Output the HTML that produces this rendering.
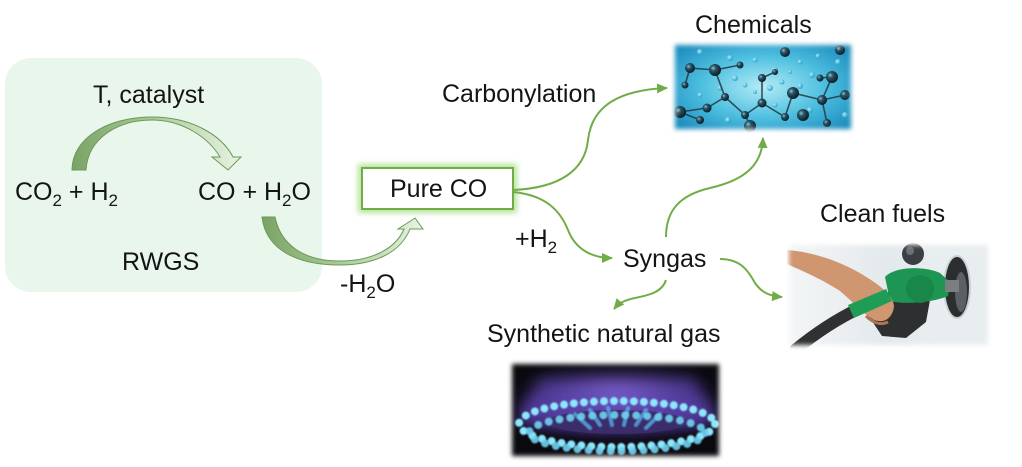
<!DOCTYPE html>
<html><head><meta charset="utf-8">
<style>
html,body{margin:0;padding:0;background:#fff;}
svg{display:block}
text{font-family:"Liberation Sans",Arial,sans-serif;font-size:25px;fill:#141414;}
</style></head><body>
<svg width="1022" height="467" viewBox="0 0 1022 467" xmlns="http://www.w3.org/2000/svg">
<defs>
 <linearGradient id="ag1" x1="0" x2="1" y1="0" y2="0">
  <stop offset="0" stop-color="#7aa366"/><stop offset="0.45" stop-color="#a6c796"/><stop offset="1" stop-color="#e8f3e2"/>
 </linearGradient>
 <marker id="ah" markerUnits="userSpaceOnUse" markerWidth="11" markerHeight="10" refX="10" refY="5" orient="auto" viewBox="0 0 11 10">
  <path d="M0,0 L11,5 L0,10 Z" fill="#70ad47"/>
 </marker>
 <filter id="glow" x="-20%" y="-50%" width="140%" height="200%"><feGaussianBlur stdDeviation="3"/></filter>
 <filter id="fb" x="-20%" y="-20%" width="140%" height="140%"><feGaussianBlur stdDeviation="2.5"/></filter>
 <filter id="sb" x="-50%" y="-50%" width="200%" height="200%"><feGaussianBlur stdDeviation="0.8"/></filter>
 <filter id="bb" x="-50%" y="-50%" width="200%" height="200%"><feGaussianBlur stdDeviation="7"/></filter>
 <radialGradient id="chemBg" cx="50%" cy="50%" r="65%">
  <stop offset="0" stop-color="#b5ebf6"/><stop offset="0.5" stop-color="#4fc0e0"/><stop offset="1" stop-color="#1585b8"/>
 </radialGradient>
 <radialGradient id="ball" cx="35%" cy="35%" r="65%">
  <stop offset="0" stop-color="#8fc4d2"/><stop offset="0.35" stop-color="#2a5566"/><stop offset="1" stop-color="#0c1e29"/>
 </radialGradient>
 <radialGradient id="lball" cx="35%" cy="35%" r="65%">
  <stop offset="0" stop-color="#bff0fb"/><stop offset="1" stop-color="#1f9fcc"/>
 </radialGradient>
 <linearGradient id="fuelBg" x1="0" x2="1" y1="0" y2="0">
  <stop offset="0" stop-color="#f5f7f8"/><stop offset="0.5" stop-color="#e3e9ec"/><stop offset="1" stop-color="#f0f3f5"/>
 </linearGradient>
 <radialGradient id="purp" cx="50%" cy="50%" r="50%">
  <stop offset="0" stop-color="#9a7ef0"/><stop offset="1" stop-color="#4a2f8a" stop-opacity="0"/>
 </radialGradient>
 <mask id="mChem" maskUnits="userSpaceOnUse" x="650" y="25" width="225" height="125">
  <rect x="675" y="45" width="176" height="84" fill="#fff" filter="url(#fb)"/>
 </mask>
 <mask id="mFuel" maskUnits="userSpaceOnUse" x="770" y="225" width="240" height="140">
  <rect x="789" y="245" width="199" height="100" fill="#fff" filter="url(#fb)"/>
 </mask>
 <mask id="mGas" maskUnits="userSpaceOnUse" x="495" y="345" width="240" height="122">
  <rect x="512" y="364" width="207" height="92" fill="#fff" filter="url(#fb)"/>
 </mask>
</defs>

<!-- RWGS box -->
<rect x="5" y="58" width="317" height="234" rx="26" fill="#e9f6ec"/>

<!-- curved arrow 1 -->
<path d="M72,170 C72,138 108,117 152,117 C190,117 221,134 233,157 L241,157 L228,170 L212,157 L220,157 C208,137 182,120 152,120 C118,120 88,138 86,170 Z" fill="url(#ag1)" stroke="#6a9a55" stroke-width="1"/>

<!-- curved arrow 2 -->
<path d="M262,217 L275,217 C281,246 305,261 340,261 C370,261 395,250 404,229 L398,229 L415,218 L423,229 L410,229 C400,254 372,265 340,265 C297,265 266,250 262,217 Z" fill="url(#ag1)" stroke="#6a9a55" stroke-width="1"/>

<!-- labels left -->
<text x="93" y="103">T, catalyst</text>
<text x="15" y="200">CO<tspan font-size="17" dy="6">2</tspan><tspan dy="-6"> + H</tspan><tspan font-size="17" dy="6">2</tspan></text>
<text x="198" y="200">CO + H<tspan font-size="17" dy="6">2</tspan><tspan dy="-6">O</tspan></text>
<text x="122" y="270">RWGS</text>
<text x="340" y="292">-H<tspan font-size="17" dy="6">2</tspan><tspan dy="-6">O</tspan></text>

<!-- Pure CO -->
<rect x="362" y="168" width="151" height="41" fill="none" stroke="#b5e39a" stroke-width="8" filter="url(#glow)"/>
<rect x="362" y="168" width="151" height="41" fill="#fff" stroke="#70ad47" stroke-width="2"/>
<text x="390" y="197">Pure CO</text>

<text x="442" y="102">Carbonylation</text>
<text x="515" y="247">+H<tspan font-size="17" dy="6">2</tspan></text>
<text x="623" y="267">Syngas</text>
<text x="695" y="33">Chemicals</text>
<text x="820" y="222">Clean fuels</text>
<text x="487" y="342">Synthetic natural gas</text>

<!-- connectors -->
<g fill="none" stroke="#70ad47" stroke-width="2" marker-end="url(#ah)">
 <path d="M513,190 C560,188 585,170 588,140 C592,105 620,90 667,88"/>
 <path d="M513,192 C545,195 560,210 568,230 C575,248 590,258 612,258"/>
 <path d="M666,237 C666,210 680,195 710,188 C745,180 762,165 763,138"/>
 <path d="M720,259 C740,259 748,270 755,283 C762,293 770,296 782,297"/>
 <path d="M666,280 C662,292 650,295 635,298 C625,300 619,303 614,309"/>
</g>

<!-- Chemicals image -->
<g mask="url(#mChem)">
 <rect x="670" y="40" width="186" height="94" fill="url(#chemBg)"/>
 <g fill="url(#lball)" opacity="0.9">
  <circle cx="700" cy="52" r="3"/><circle cx="730" cy="58" r="3"/><circle cx="755" cy="60" r="2.5"/>
  <circle cx="775" cy="70" r="3"/><circle cx="800" cy="62" r="2.5"/><circle cx="812" cy="75" r="3"/>
  <circle cx="770" cy="88" r="3"/><circle cx="782" cy="82" r="2.5"/><circle cx="800" cy="86" r="3"/>
  <circle cx="745" cy="85" r="2.5"/><circle cx="735" cy="78" r="3"/><circle cx="720" cy="88" r="2.5"/>
  <circle cx="810" cy="110" r="3"/><circle cx="775" cy="105" r="2.5"/><circle cx="838" cy="62" r="3"/>
  <circle cx="700" cy="95" r="2.5"/><circle cx="845" cy="115" r="3"/><circle cx="755" cy="92" r="2"/>
  <circle cx="728" cy="120" r="3"/><circle cx="790" cy="72" r="2"/><circle cx="818" cy="56" r="2.5"/>
 </g>
 <g stroke="#24404c" stroke-width="1.6" fill="none" opacity="0.9">
  <path d="M690,68 L715,70 L725,97 L707,108 L680,112"/>
  <path d="M690,68 L685,85"/>
  <path d="M715,70 L740,65"/>
  <path d="M725,97 L745,115 L762,103 L762,78 L775,72"/>
  <path d="M762,103 L785,117 L793,93 L822,100 L832,77"/>
  <path d="M822,100 L845,95"/>
  <path d="M820,78 L832,77"/>
  <path d="M822,100 L827,123"/>
  <path d="M745,115 L750,125"/>
  <path d="M680,112 L700,120"/>
 </g>
 <g fill="url(#ball)">
  <circle cx="690" cy="68" r="5"/><circle cx="715" cy="70" r="6"/><circle cx="680" cy="112" r="6"/>
  <circle cx="707" cy="108" r="4.5"/><circle cx="725" cy="97" r="4"/><circle cx="762" cy="103" r="4.5"/>
  <circle cx="762" cy="78" r="4"/><circle cx="793" cy="93" r="6"/><circle cx="822" cy="100" r="5"/>
  <circle cx="832" cy="77" r="6"/><circle cx="785" cy="117" r="4"/><circle cx="745" cy="115" r="4"/>
  <circle cx="803" cy="115" r="6"/><circle cx="845" cy="95" r="5"/><circle cx="740" cy="65" r="3.5"/>
  <circle cx="785" cy="52" r="5"/><circle cx="820" cy="78" r="3.5"/><circle cx="685" cy="85" r="3.5"/>
  <circle cx="750" cy="126" r="6"/><circle cx="827" cy="123" r="4"/><circle cx="840" cy="50" r="5"/>
  <circle cx="775" cy="72" r="3"/><circle cx="700" cy="120" r="4"/>
 </g>
</g>

<!-- Fuel image -->
<g mask="url(#mFuel)">
 <rect x="780" y="236" width="216" height="118" fill="url(#fuelBg)"/>
 <rect x="932" y="240" width="64" height="110" fill="#e8edf0"/>
 <ellipse cx="957" cy="287" rx="14" ry="32" fill="#c9d0d4"/>
 <ellipse cx="957" cy="287" rx="12" ry="30" fill="#2b2d2f"/>
 <ellipse cx="961" cy="292" rx="6" ry="20" fill="#5b6064"/>
 <circle cx="913" cy="254" r="11" fill="#3b3f43"/>
 <circle cx="910" cy="251" r="4" fill="#6b7075"/>
 <path d="M795,350 C812,336 835,320 860,308" stroke="#2f3133" stroke-width="12" stroke-linecap="round" fill="none"/>
 <path d="M858,298 L902,290 L930,300 L926,322 L906,338 L882,336 L870,318 Z" fill="#2d2f31"/>
 <path d="M885,277 C895,266 925,266 940,273 L950,282 L948,296 C935,302 905,305 890,301 Z" fill="#1f9553"/>
 <circle cx="920" cy="289" r="14" fill="#188748"/>
 <rect x="945" y="280" width="14" height="12" fill="#7b7f82"/>
 <path d="M787,250 C815,252 845,263 868,278 C882,287 893,296 894,306 C893,318 884,324 874,320 C862,313 852,301 840,291 C820,278 800,270 787,264 Z" fill="#cf9670"/>
 <path d="M848,305 L886,289 L892,301 L854,318 Z" fill="#1f9d57"/>
 <path d="M866,316 C872,322 880,326 888,322" stroke="#b07652" stroke-width="3" fill="none"/>
</g>

<!-- Gas image -->
<g mask="url(#mGas)">
 <rect x="505" y="356" width="222" height="106" fill="#0a0a0e"/>
 <path d="M540,378 L694,378 L718,425 L516,425 Z" fill="#6a4fd0" opacity="0.55" filter="url(#bb)"/>
 <ellipse cx="617" cy="398" rx="110" ry="34" fill="url(#purp)" filter="url(#bb)"/>
 <ellipse cx="617" cy="412" rx="98" ry="22" fill="#5a3fb0" opacity="0.6" filter="url(#bb)"/>
 <ellipse cx="617" cy="422" rx="70" ry="12" fill="#3a2d6a"/>
 <g stroke="#5ab4ee" stroke-width="4" stroke-linecap="round" opacity="0.75" filter="url(#sb)">
  <path d="M600,425 L590,410"/><path d="M612,425 L608,408"/><path d="M624,425 L628,408"/><path d="M636,425 L646,410"/><path d="M590,428 L575,414"/><path d="M646,428 L660,414"/>
 </g>
 <ellipse cx="617" cy="424" rx="98" ry="23" fill="none" stroke="#8ee6fc" stroke-width="8" stroke-dasharray="0 10" stroke-linecap="round" filter="url(#sb)"/>
 <ellipse cx="617" cy="433" rx="88" ry="18" fill="none" stroke="#6fd2f2" stroke-width="8" stroke-dasharray="0 11" stroke-linecap="round" filter="url(#sb)" opacity="0.9"/>
</g>
</svg>
</body></html>
